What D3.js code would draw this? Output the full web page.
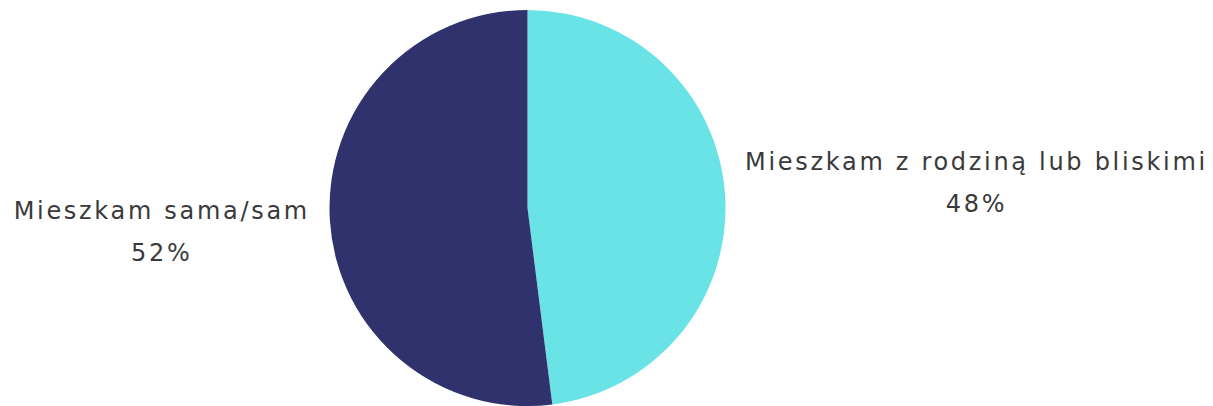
<!DOCTYPE html>
<html>
<head>
<meta charset="utf-8">
<script src="https://cdn.jsdelivr.net/npm/d3@7"></script>
<style>
  html, body { margin: 0; padding: 0; background: #fff; }
  svg { display: block; }
  text { font-family: "DejaVu Sans", sans-serif; fill: #3a3a3a; }
</style>
</head>
<body>
<svg id="chart" width="1213" height="406"></svg>
<script>
// Living situation shares
const categories = ["Mieszkam z rodziną lub bliskimi", "Mieszkam sama/sam"];
const values = [48, 52];
const colors = ["#6ae3e6", "#30326d"];

const width = 1213, height = 406;
const cx = 527.5, cy = 208, radius = 198;

const svg = d3.select("#chart");
const g = svg.append("g").attr("transform", `translate(${cx},${cy})`);

const data = categories.map((c, i) => ({ name: c, value: values[i], color: colors[i] }));

const pie = d3.pie().value(d => d.value).sort(null);
const arc = d3.arc().innerRadius(0).outerRadius(radius);
const arcs = pie(data);

g.selectAll("path.slice")
  .data(arcs)
  .join("path")
  .attr("class", "slice")
  .attr("d", arc)
  .attr("fill", d => d.data.color);

// Labels sit just outside the rim, beside each slice's mid-angle
const labelR = radius + 20;
const fontSize = 24;
const spacing = 2.7;

arcs.forEach(a => {
  const mid = (a.startAngle + a.endAngle) / 2;
  const right = Math.sin(mid) > 0;
  const ax = labelR * Math.sin(mid);
  const firstY = right ? -38 : 11;

  const grp = g.append("g");
  const t1 = grp.append("text")
    .attr("font-size", fontSize)
    .attr("letter-spacing", spacing)
    .attr("text-anchor", "middle")
    .text(a.data.name);
  const w = t1.node().getComputedTextLength();
  const centerX = right ? ax + w / 2 : ax - w / 2;
  t1.attr("x", centerX).attr("y", firstY);

  grp.append("text")
    .attr("font-size", fontSize)
    .attr("letter-spacing", spacing)
    .attr("text-anchor", "middle")
    .attr("x", centerX)
    .attr("y", firstY + 42)
    .text(d3.format(".0f")(a.data.value) + "%");
});
</script>
</body>
</html>
